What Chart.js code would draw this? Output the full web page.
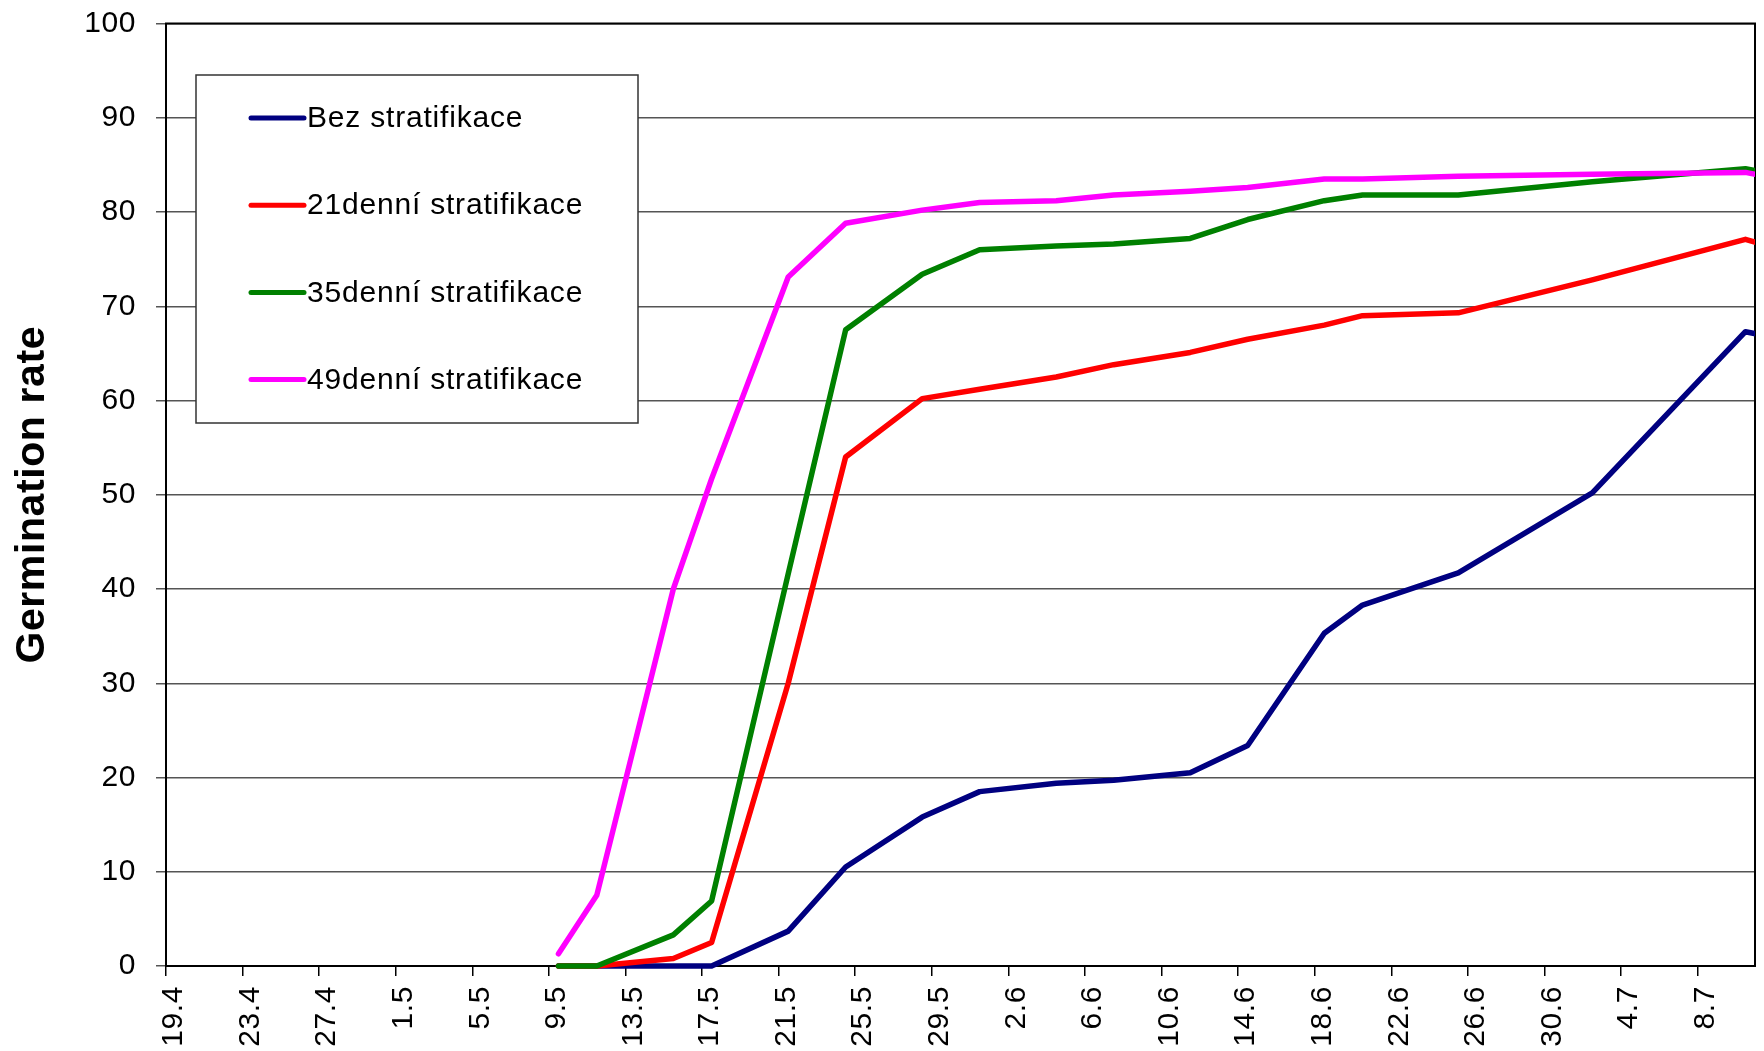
<!DOCTYPE html>
<html>
<head>
<meta charset="utf-8">
<title>Germination rate</title>
<script src="https://cdn.jsdelivr.net/npm/chart.js@4/dist/chart.umd.min.js"></script>
<style>
  html, body { margin: 0; padding: 0; background: #fff; }
  #wrap { width: 1764px; height: 1051px; position: relative; }
</style>
</head>
<body>
<div id="wrap"><canvas id="chart"></canvas></div>
<script>
// Sampling dates (day.month) of the germination counts
const sampleDates = ['9.5', '11.5', '15.5', '17.5', '21.5', '24.5', '28.5', '31.5', '4.6', '7.6',
                     '11.6', '14.6', '18.6', '20.6', '25.6', '2.7', '10.7', '11.7'];

// Series names
const seriesNames = ['Bez stratifikace', '21denní stratifikace', '35denní stratifikace', '49denní stratifikace'];

// Germination rate (%) per sampling date
const bezStratifikace = [0, 0, 0, 0, 3.7, 10.5, 15.8, 18.5, 19.4, 19.7, 20.5, 23.4, 35.3, 38.3, 41.7, 50.2, 67.3, 66.9];
const strat21 = [0, 0, 0.8, 2.5, 30.0, 54.0, 60.2, 61.2, 62.5, 63.8, 65.1, 66.5, 68.0, 69.0, 69.3, 72.8, 77.1, 76.5];
const strat35 = [0, 0, 3.3, 6.9, 41.6, 67.5, 73.4, 76.0, 76.4, 76.6, 77.2, 79.2, 81.2, 81.8, 81.8, 83.2, 84.6, 84.2];
const strat49 = [1.3, 7.5, 40.0, 51.7, 73.1, 78.8, 80.2, 81.0, 81.2, 81.8, 82.2, 82.6, 83.5, 83.5, 83.8, 84.0, 84.2, 83.8];

const seriesColors = ['#000080', '#FF0000', '#008000', '#FF00FF'];

// Date axis: first and last day shown, label every 4 days
const axisStart = '19.4';
const axisEnd = '11.7';
const tickStepDays = 4;

// Y axis range
const yMin = 0;
const yMax = 100;
const yStep = 10;

// --- date helpers (season April – July) ---
const monthOffset = { 4: 0, 5: 30, 6: 61, 7: 91 };
function seasonDay(str) {
  const [d, m] = str.split('.').map(Number);
  return monthOffset[m] + d - 1;
}
const startDay = seasonDay(axisStart);
function dayIndex(str) { return seasonDay(str) - startDay; }
function dateLabel(idx) {
  const n = Math.round(idx) + startDay;
  let month = 4;
  for (const m of [7, 6, 5, 4]) { if (n >= monthOffset[m]) { month = m; break; } }
  return (n - monthOffset[month] + 1) + '.' + month;
}

// each day occupies one slot; the date sits in the middle of its slot
const xMin = -0.5;
const xMax = dayIndex(axisEnd) - 0.5;

const LINE_WIDTH = 5.5;

const seriesValues = [bezStratifikace, strat21, strat35, strat49];
const datasets = seriesValues.map((vals, i) => ({
  label: seriesNames[i],
  data: vals.map((v, j) => ({ x: dayIndex(sampleDates[j]), y: v })),
  borderColor: seriesColors[i],
  backgroundColor: seriesColors[i],
  borderWidth: LINE_WIDTH,
  borderJoinStyle: 'round',
  borderCapStyle: 'round',
  pointRadius: 0,
  tension: 0,
  order: seriesValues.length - i,
  clip: { left: 5, top: 5, right: 0, bottom: 5 }
}));

const FONT = "'Liberation Sans', Arial, sans-serif";
const TEXT_SPACING = '0.6px';

// slightly wider text spacing for the axis labels
const textSpacing = {
  id: 'textSpacing',
  beforeDraw(chart) { chart.ctx.letterSpacing = TEXT_SPACING; }
};

// frame around the plot area
const plotFrame = {
  id: 'plotFrame',
  beforeDatasetsDraw(chart) {
    const { ctx, chartArea: a } = chart;
    ctx.save();
    ctx.strokeStyle = '#000';
    ctx.lineWidth = 2;
    ctx.strokeRect(a.left, a.top, a.right - a.left, a.bottom - a.top);
    ctx.restore();
  }
};

// boxed legend inside the plot area, one row per series
const boxLegend = {
  id: 'boxLegend',
  afterDraw(chart) {
    const { ctx, chartArea: a } = chart;
    const left = a.left + 30, top = a.top + 51.5, w = 442, h = 348;
    ctx.save();
    ctx.fillStyle = '#fff';
    ctx.fillRect(left, top, w, h);
    ctx.strokeStyle = '#333';
    ctx.lineWidth = 1.5;
    ctx.strokeRect(left, top, w, h);
    ctx.font = '30px ' + FONT;
    ctx.letterSpacing = '0.8px';
    ctx.textBaseline = 'middle';
    ctx.textAlign = 'left';
    chart.data.datasets.forEach((ds, i) => {
      const y = top + 43 + i * 87.2;
      ctx.strokeStyle = ds.borderColor;
      ctx.lineWidth = 5;
      ctx.lineCap = 'round';
      ctx.beginPath();
      ctx.moveTo(left + 55, y);
      ctx.lineTo(left + 108, y);
      ctx.stroke();
      ctx.fillStyle = '#000';
      ctx.fillText(ds.label, left + 111, y + 1);
    });
    ctx.restore();
  }
};

new Chart(document.getElementById('chart'), {
  type: 'line',
  data: { datasets },
  plugins: [textSpacing, plotFrame, boxLegend],
  options: {
    responsive: true,
    maintainAspectRatio: false,
    animation: false,
    layout: { padding: { top: 23.5, right: 9, left: 0, bottom: 0 } },
    plugins: { legend: { display: false }, tooltip: { enabled: false } },
    scales: {
      x: {
        type: 'linear',
        min: xMin,
        max: xMax,
        afterBuildTicks(scale) {
          const ticks = [];
          for (let d = 0; d - 0.5 <= xMax; d += tickStepDays) ticks.push({ value: d - 0.5 });
          scale.ticks = ticks;
        },
        afterFit(scale) {
          scale.height = 85;
          scale.paddingLeft = 0;
          scale.paddingRight = 0;
        },
        ticks: {
          autoSkip: false,
          minRotation: 90,
          maxRotation: 90,
          padding: 10,
          labelOffset: 8,
          color: '#000',
          font: { family: FONT, size: 30 },
          callback: (v) => dateLabel(v + 0.5)
        },
        grid: { drawOnChartArea: false, drawTicks: true, tickLength: 10, color: '#000', lineWidth: 1.5 },
        border: { display: true, color: '#000', width: 2 }
      },
      y: {
        min: yMin,
        max: yMax,
        afterFit(scale) {
          scale.width = 166;
          scale.paddingTop = 0;
          scale.paddingBottom = 0;
        },
        ticks: {
          stepSize: yStep,
          padding: 20,
          color: '#000',
          font: { family: FONT, size: 30 }
        },
        grid: { color: '#555', lineWidth: 1.5, tickLength: 10, drawTicks: true },
        border: { display: true, color: '#000', width: 2 },
        title: {
          display: true,
          text: 'Germination rate',
          color: '#000',
          font: { family: FONT, size: 41, weight: 'bold', lineHeight: 1 },
          padding: { top: 12, bottom: 0 }
        }
      }
    }
  }
});
</script>
</body>
</html>
